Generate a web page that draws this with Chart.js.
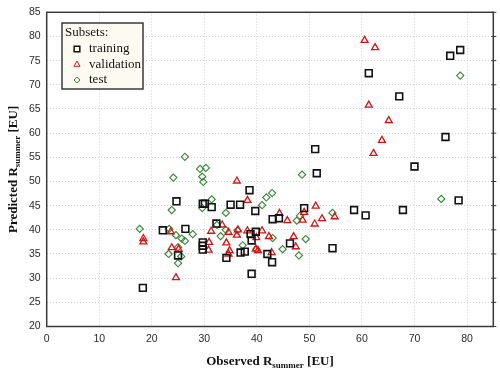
<!DOCTYPE html>
<html>
<head>
<meta charset="utf-8">
<script src="https://cdn.jsdelivr.net/npm/chart.js@4.4.0/dist/chart.umd.min.js"></script>
<style>
html, body { margin: 0; padding: 0; background: #fff; }
#wrap { width: 500px; height: 376px; position: relative; }
</style>
</head>
<body>
<div id="wrap"><canvas id="scatter"></canvas></div>
<script>
// axis ticks
const xTicks = [0, 10, 20, 30, 40, 50, 60, 70, 80];
const yTicks = [20, 25, 30, 35, 40, 45, 50, 55, 60, 65, 70, 75, 80, 85];

// training subset (black squares)
const trainObserved = [18.3, 22.1, 24.7, 25.0, 26.4, 29.7, 30.1, 29.7, 29.7, 29.7, 31.4, 32.3, 34.2, 35.0,
  36.8, 36.9, 37.7, 38.6, 39.7, 39.8, 38.8, 39.0, 39.0, 42.0, 42.9, 43.0, 44.2, 46.3, 49.0, 51.4,
  51.1, 54.4, 58.5, 60.7, 61.3, 67.1, 67.8, 70.0, 75.9, 76.8, 78.4, 78.7];
const trainPredicted = [28.0, 39.9, 45.9, 34.7, 40.2, 45.4, 45.4, 37.4, 36.7, 35.9, 44.7, 41.3, 34.2, 45.2,
  45.2, 35.3, 35.5, 48.2, 43.9, 39.6, 39.1, 37.8, 30.9, 35.0, 33.3, 42.2, 42.4, 37.2, 44.5, 51.7,
  56.7, 36.2, 44.1, 43.0, 72.4, 67.6, 44.1, 53.1, 59.2, 76.0, 46.1, 77.2];

// validation subset (red triangles)
const validObserved = [18.4, 18.4, 23.6, 23.8, 24.6, 25.1, 30.9, 30.8, 31.3, 33.4, 34.2, 34.6, 34.8, 34.6,
  36.2, 36.2, 36.4, 38.2, 38.2, 39.9, 39.8, 40.2, 41.0, 42.3, 42.8, 44.3, 45.8, 47.0, 47.4, 48.7,
  49.0, 51.0, 51.2, 52.4, 54.8, 60.5, 61.3, 62.2, 62.5, 63.8, 65.1];
const validPredicted = [38.2, 37.5, 39.6, 36.3, 30.1, 36.0, 37.4, 35.8, 39.7, 41.0, 37.3, 39.5, 35.7, 35.0,
  50.1, 38.9, 40.0, 46.1, 39.8, 38.4, 36.0, 35.7, 39.8, 38.6, 35.3, 43.4, 41.9, 38.6, 36.5, 42.0,
  43.6, 41.2, 44.9, 42.3, 42.7, 79.2, 65.8, 55.8, 77.7, 58.5, 62.6];

// test subset (green diamonds)
const testObserved = [17.7, 23.3, 23.2, 23.8, 24.1, 24.6, 25.0, 25.0, 25.6, 25.7, 26.3, 26.3, 27.8, 29.2,
  30.3, 29.6, 29.8, 29.6, 31.4, 32.4, 33.1, 34.1, 34.1, 36.3, 37.3, 39.9, 41.0, 41.8, 42.9, 43.0,
  44.9, 47.6, 48.2, 48.0, 48.6, 49.3, 54.4, 75.1, 78.7];
const testPredicted = [40.2, 40.2, 35.0, 44.1, 50.8, 38.9, 36.4, 33.1, 34.5, 38.2, 37.7, 55.1, 39.1, 52.6,
  52.8, 51.0, 49.9, 44.5, 46.3, 41.0, 38.7, 43.5, 40.0, 39.9, 36.8, 36.0, 45.1, 46.7, 47.6, 38.3,
  36.0, 41.9, 42.9, 34.7, 51.4, 38.1, 43.5, 46.4, 71.9];

const subsetNames = ['training', 'validation', 'test'];
const subsetColors = ['#111111', '#e01010', '#2f8a2f'];

function toPoints(xs, ys) {
    return xs.map((x, i) => ({ x: x, y: ys[i] }));
}

const serif = '"Liberation Serif", "Times New Roman", serif';

// draws "main" + subscript + "tail" centred at (cx, cy)
function drawSubText(ctx, cx, cy, main, sub, tail) {
    ctx.font = 'bold 13px ' + serif;
    const w1 = ctx.measureText(main).width;
    const w3 = ctx.measureText(tail).width;
    ctx.font = 'bold 9px ' + serif;
    const w2 = ctx.measureText(sub).width;
    let x = cx - (w1 + w2 + w3) / 2;
    ctx.textAlign = 'left';
    ctx.textBaseline = 'alphabetic';
    ctx.fillStyle = '#111';
    ctx.font = 'bold 13px ' + serif;
    ctx.fillText(main, x, cy + 4);
    x += w1;
    ctx.font = 'bold 9px ' + serif;
    ctx.fillText(sub, x, cy + 7);
    x += w2;
    ctx.font = 'bold 13px ' + serif;
    ctx.fillText(tail, x, cy + 4);
}

const decorPlugin = {
    id: 'decor',
    afterDraw(chart) {
        const { ctx, chartArea: a, scales } = chart;
        ctx.save();

        // frame round the plot
        ctx.strokeStyle = '#3a3a3a';
        ctx.lineWidth = 1.5;
        ctx.strokeRect(a.left, a.top, a.right - a.left, a.bottom - a.top);

        // small ticks on the right edge
        ctx.lineWidth = 1;
        scales.y.ticks.forEach(t => {
            const py = scales.y.getPixelForValue(t.value);
            ctx.beginPath();
            ctx.moveTo(a.right - 2, py);
            ctx.lineTo(a.right + 3, py);
            ctx.stroke();
        });

        // axis titles
        drawSubText(ctx, (a.left + a.right) / 2, 361, 'Observed R', 'summer', ' [EU]');
        ctx.save();
        ctx.translate(13, (a.top + a.bottom) / 2);
        ctx.rotate(-Math.PI / 2);
        drawSubText(ctx, 0, 0, 'Predicted R', 'summer', ' [EU]');
        ctx.restore();

        // legend box
        const lx = 62, ly = 23, lw = 81, lh = 66;
        const legendBg = '#fdfbf1';
        ctx.fillStyle = legendBg;
        ctx.fillRect(lx, ly, lw, lh);
        ctx.strokeStyle = '#3a3a3a';
        ctx.lineWidth = 1.5;
        ctx.strokeRect(lx, ly, lw, lh);
        ctx.fillStyle = '#111';
        ctx.font = '13px ' + serif;
        ctx.textAlign = 'left';
        ctx.textBaseline = 'middle';
        ctx.fillText('Subsets:', lx + 3, ly + 10);
        const styles = ['rect', 'triangle', 'rectRot'];
        const radius = [4, 3.5, 3];
        subsetNames.forEach((name, i) => {
            const ry = ly + 26 + i * 15.5;
            ctx.strokeStyle = subsetColors[i];
            ctx.fillStyle = legendBg;
            ctx.lineWidth = i === 0 ? 1.5 : 1;
            Chart.helpers.drawPoint(ctx, { pointStyle: styles[i], radius: radius[i], rotation: 0, borderWidth: ctx.lineWidth }, lx + 15, ry);
            ctx.fillStyle = '#111';
            ctx.font = '13px ' + serif;
            ctx.fillText(name, lx + 27, ry);
        });
        ctx.restore();
    }
};

const ctx = document.getElementById('scatter').getContext('2d');
new Chart(ctx, {
    type: 'scatter',
    data: {
        datasets: [
            {
                label: subsetNames[0],
                data: toPoints(trainObserved, trainPredicted),
                pointStyle: 'rect',
                pointRadius: 4.8,
                borderColor: subsetColors[0],
                backgroundColor: 'rgba(255,255,255,0)',
                borderWidth: 1.6
            },
            {
                label: subsetNames[1],
                data: toPoints(validObserved, validPredicted),
                pointStyle: 'triangle',
                pointRadius: 4,
                borderColor: subsetColors[1],
                backgroundColor: 'rgba(255,255,255,0)',
                borderWidth: 1.3
            },
            {
                label: subsetNames[2],
                data: toPoints(testObserved, testPredicted),
                pointStyle: 'rectRot',
                pointRadius: 3.6,
                borderColor: subsetColors[2],
                backgroundColor: 'rgba(255,255,255,0)',
                borderWidth: 1.1
            }
        ]
    },
    options: {
        responsive: true,
        maintainAspectRatio: false,
        animation: false,
        events: [],
        layout: { padding: { top: 10, right: 6.7, left: 0, bottom: 0 } },
        scales: {
            x: {
                type: 'linear',
                min: 0,
                max: 85,
                afterFit: s => { s.height = 49.5; },
                afterBuildTicks: s => { s.ticks = xTicks.map(v => ({ value: v })); },
                ticks: {
                    padding: 6,
                    color: '#2a2a2a',
                    font: { family: '"Liberation Sans", Arial, sans-serif', size: 10.5 }
                },
                grid: { color: '#d2d2d2', lineWidth: 1, drawTicks: false },
                border: { display: false, dash: [1, 2] }
            },
            y: {
                type: 'linear',
                min: 20,
                max: 85,
                afterFit: s => { s.width = 46.7; },
                afterBuildTicks: s => { s.ticks = yTicks.map(v => ({ value: v })); },
                ticks: {
                    padding: 6,
                    color: '#2a2a2a',
                    font: { family: '"Liberation Sans", Arial, sans-serif', size: 10.5 }
                },
                grid: { color: '#d2d2d2', lineWidth: 1, drawTicks: false },
                border: { display: false, dash: [1, 2] }
            }
        },
        plugins: {
            legend: { display: false },
            tooltip: { enabled: false }
        }
    },
    plugins: [decorPlugin]
});
</script>
</body>
</html>
